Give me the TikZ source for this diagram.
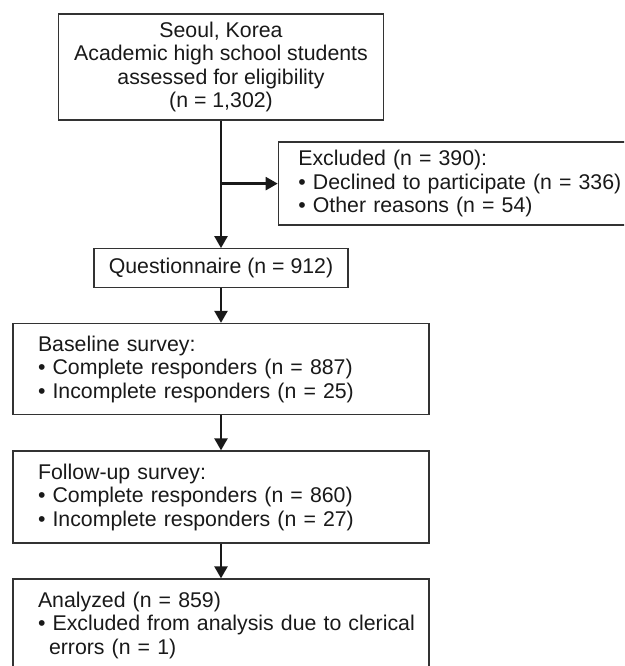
\documentclass[tikz,border=0pt]{standalone}
\usepackage{fontspec}
\setmainfont{Liberation Sans}
\usetikzlibrary{arrows.meta}
\tikzstyle{arrow} = [line width=2.4pt,black!90,-{Triangle[length=12pt,width=13pt]}]

\begin{document}
\begin{tikzpicture}
        [x=1pt,y=-1pt,
            box/.style={rectangle,draw=black!80,line width=1.3pt,text=black!90,font=\fontsize{21.3}{23.5}\selectfont},
            lbox/.style={box,align=left,inner xsep=25pt,text width=366pt,minimum width=416pt,minimum height=91pt},
        ]
    \path[use as bounding box,clip] (0,0) rectangle (624,666);

    \node[box,align=center,minimum width=325pt,minimum height=106pt] (seoul) at (221,67)
        {Seoul, Korea\\Academic high school students\\assessed for eligibility\\(n = 1,302)};
    \node[box,align=left,inner xsep=20pt,text width=311pt,minimum height=83pt,anchor=west] (excl) at (277.7,183.6)
        {Excluded (n = 390):\\\mbox{• Declined to participate (n = 336)}\\• Other reasons (n = 54)};
    \node[box,minimum width=254pt,minimum height=38.5pt] (quest) at (221,268) {Questionnaire (n = 912)};
    \node[lbox] (base) at (221,369)
        {Baseline survey:\\• Complete responders (n = 887)\\• Incomplete responders (n = 25)};
    \node[lbox,minimum height=92pt] (follow) at (221,497)
        {Follow-up survey:\\• Complete responders (n = 860)\\• Incomplete responders (n = 27)};
    \node[lbox,minimum height=92pt] (anal) at (221,625)
        {Analyzed (n = 859)\\\mbox{• Excluded from analysis due to clerical}\\\hspace*{11pt}errors (n = 1)};

    \coordinate (split) at (seoul.south |- excl.west);
    \draw[arrow] (seoul) -- (quest);
    \draw[arrow] (split) -- (excl);
    \draw[arrow] (quest) -- (base);
    \draw[arrow] (base) -- (follow);
    \draw[arrow] (follow) -- (anal);
\end{tikzpicture}
\end{document}
